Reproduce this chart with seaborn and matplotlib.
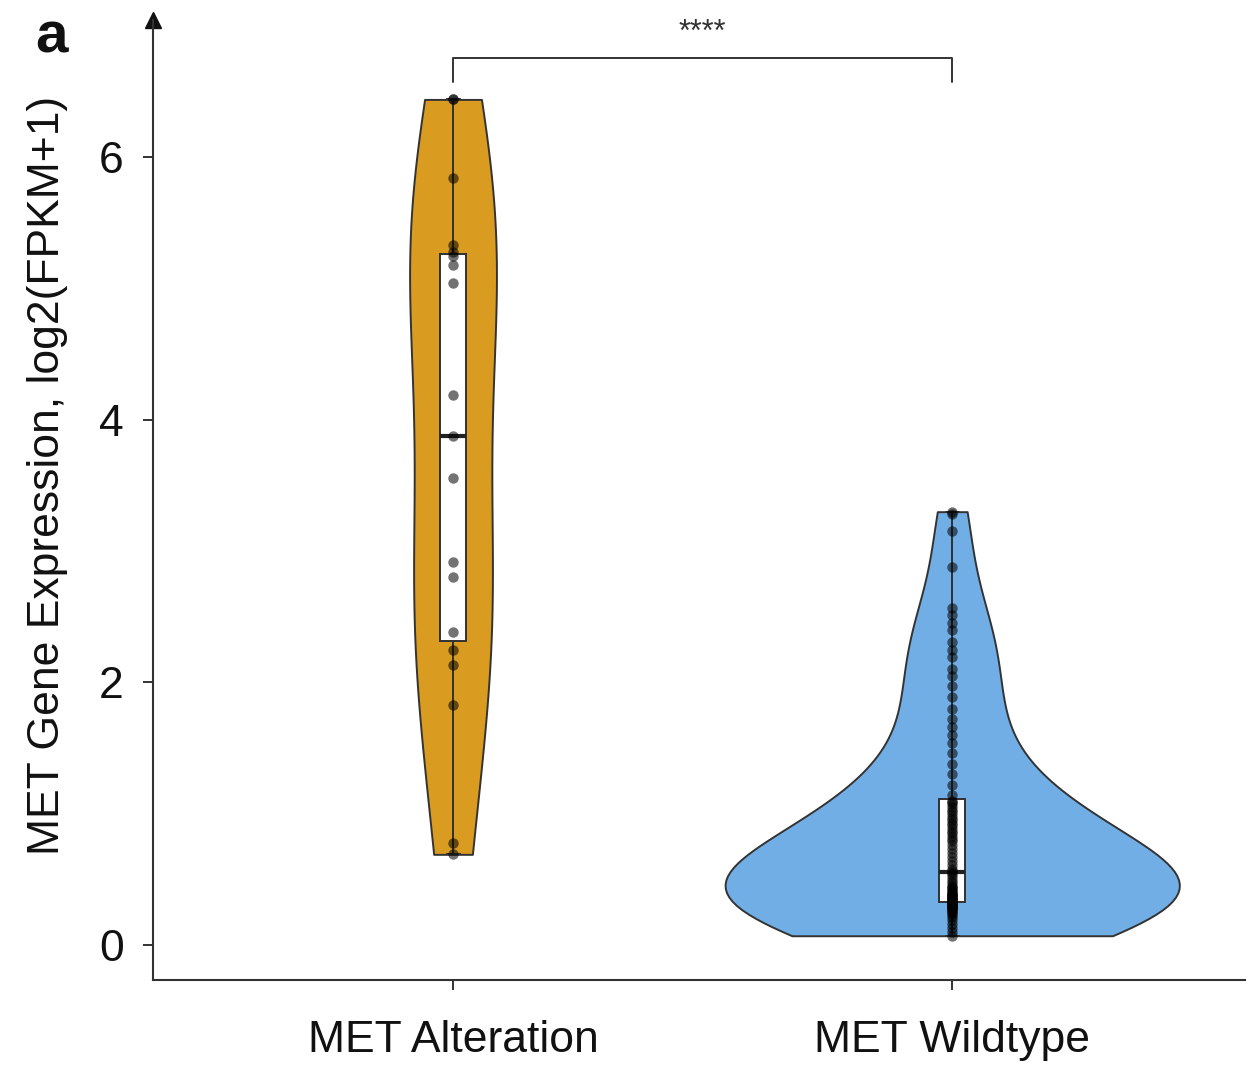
import numpy as np
import pandas as pd
import matplotlib
matplotlib.use("Agg")
import matplotlib.pyplot as plt
import seaborn as sns

groups = ["MET Alteration", "MET Wildtype"]
palette = ["#D99B20", "#72AEE6"]
violin_widths = [0.174, 0.91]
violin_bw = [1.0, 1.22]

alteration = [6.44, 6.44, 5.84, 5.33, 5.28, 5.25, 5.18, 5.04, 4.19, 3.88,
              3.56, 2.92, 2.80, 2.38, 2.25, 2.13, 1.83, 0.78, 0.69]

wildtype = [3.30, 3.28, 3.15, 2.88, 2.57, 2.51, 2.45, 2.40, 2.31, 2.25,
            2.19, 2.10, 2.05, 1.97, 1.89, 1.80, 1.72, 1.66, 1.60, 1.54,
            1.46, 1.38, 1.30, 1.22, 1.14,
            1.10, 1.09, 1.07, 1.05, 1.03, 1.01, 0.99, 0.97, 0.95, 0.93,
            0.91, 0.89, 0.87, 0.85, 0.83, 0.81, 0.79, 0.76, 0.73, 0.70,
            0.67, 0.64, 0.61, 0.58, 0.56,
            0.55, 0.53, 0.51, 0.49, 0.47, 0.45, 0.44, 0.43, 0.42, 0.41,
            0.40, 0.39, 0.39, 0.38, 0.38, 0.37, 0.37, 0.36, 0.36, 0.35,
            0.35, 0.34, 0.34, 0.33, 0.33,
            0.32, 0.32, 0.32, 0.31, 0.31, 0.31, 0.30, 0.30, 0.30, 0.29,
            0.29, 0.28, 0.28, 0.27, 0.27, 0.26, 0.25, 0.24, 0.23, 0.21,
            0.19, 0.16, 0.13, 0.10, 0.07]

df = pd.DataFrame({
    "group": [groups[0]] * len(alteration) + [groups[1]] * len(wildtype),
    "value": alteration + wildtype,
})

sns.set_style("white")
plt.rcParams["font.family"] = ["Liberation Sans", "DejaVu Sans"]
plt.rcParams["text.color"] = "#111111"
plt.rcParams["xtick.color"] = "#111111"
plt.rcParams["ytick.color"] = "#111111"
plt.rcParams["axes.labelcolor"] = "#111111"

fig = plt.figure(figsize=(12.49, 10.8), dpi=100)
ax = fig.add_axes([0.1225, 0.0926, 0.8745, 0.8889])

# one violin per group so each keeps its own width / bandwidth
for g, c, w, bw in zip(groups, palette, violin_widths, violin_bw):
    sns.violinplot(data=df[df["group"] == g], x="group", y="value",
                   order=groups, color=c, cut=0, inner=None, width=w,
                   linewidth=1.4, linecolor="#333333", bw_adjust=bw,
                   saturation=1, ax=ax)
# opaque white box under the points
sns.boxplot(data=df, x="group", y="value", order=groups, width=0.052,
            showfliers=False, whis=10, linewidth=1.4, linecolor="#333333",
            color="white", saturation=1, ax=ax)
sns.stripplot(data=df, x="group", y="value", order=groups, jitter=False,
              color="black", alpha=0.55, size=7.5, ax=ax)
# translucent box on top so the points inside look grey
sns.boxplot(data=df, x="group", y="value", order=groups, width=0.052,
            showfliers=False, whis=10, linewidth=1.4, linecolor="#333333",
            boxprops={"facecolor": (1, 1, 1, 0.6)},
            medianprops={"linewidth": 3, "color": "#222222"}, ax=ax)

# significance bracket
ax.plot([0, 0, 1, 1], [6.57, 6.755, 6.755, 6.57], color="#333333", lw=1.4)
ax.text(0.5, 6.95, "****", ha="center", va="center", fontsize=22,
        color="#333333")

ax.set_xlim(-0.601, 1.587)
ax.set_ylim(-0.267, 7.045)
ax.set_yticks([0, 2, 4, 6])
ax.set_xlabel("")
ax.set_ylabel("MET Gene Expression, log2(FPKM+1)", fontsize=32)
ax.yaxis.set_label_coords(-0.078, 0.526)
ax.tick_params(axis="both", labelsize=32, length=7, width=1.2,
               direction="out", left=True, bottom=True)
ax.tick_params(axis="x", pad=22)
ax.tick_params(axis="y", pad=14)

for s in ["top", "right"]:
    ax.spines[s].set_visible(False)
for s in ["left", "bottom"]:
    ax.spines[s].set_color("#333333")
    ax.spines[s].set_linewidth(1.5)

# arrow at top of y axis
ax.plot(0, 1, "^", color="#111111", markersize=11, transform=ax.transAxes,
        clip_on=False)

fig.text(0.028, 0.965, "a", fontsize=42, fontweight="bold", va="center")

fig.savefig("out.png", dpi=100)
